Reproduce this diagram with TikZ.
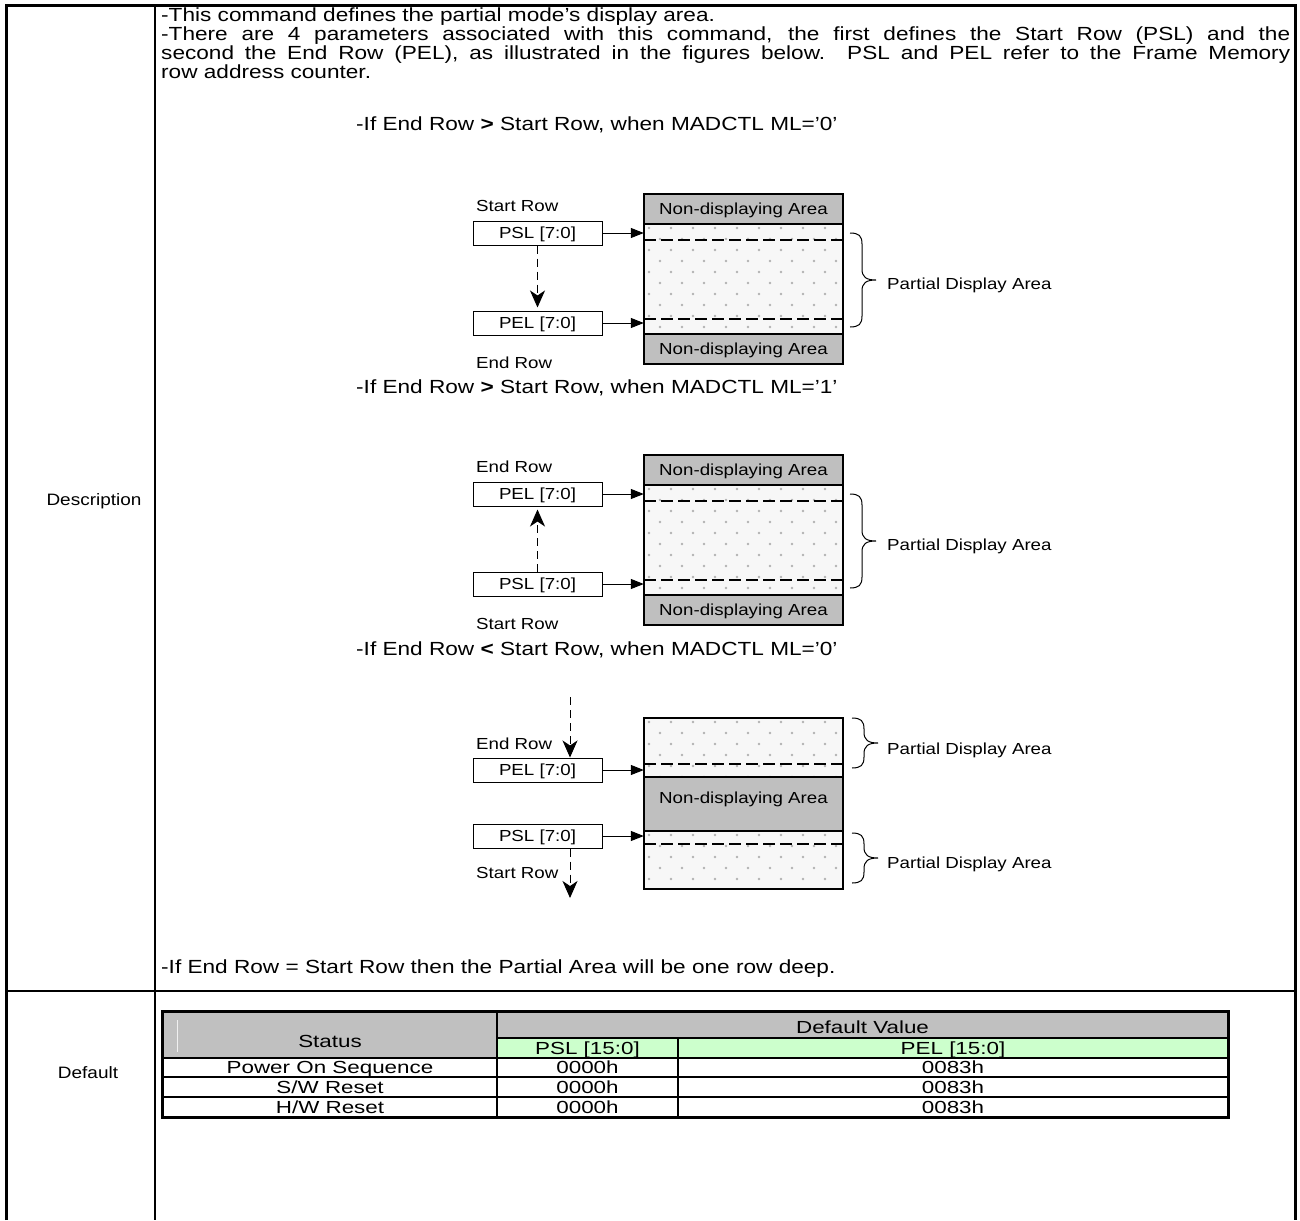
\documentclass[tikz,border=0pt]{standalone}
\usepackage{fontspec}
\setmainfont{Liberation Sans}
\newfontfamily\bodyf{Liberation Sans}[FakeStretch=1.19]
\newfontfamily\labf{Liberation Sans}[FakeStretch=1.17]
\newfontfamily\sidef{Liberation Sans}[FakeStretch=1.15]
\newfontfamily\tabf{Liberation Sans}[FakeStretch=1.28]
\usetikzlibrary{arrows.meta}
\definecolor{bandgray}{HTML}{BFBFBF}
\definecolor{hdrgray}{HTML}{C0C0C0}
\definecolor{hdrgreen}{HTML}{CCFFCC}
\tikzset{
  body/.style={font=\bodyf\fontsize{19}{21}\selectfont, inner sep=0pt, anchor=base west},
  side/.style={font=\sidef\fontsize{16.5}{18}\selectfont, inner sep=0pt, anchor=base},
  lab/.style={font=\labf\fontsize{16}{18}\selectfont, inner sep=0pt, text height=11.5pt, text depth=0pt},
  pbox/.style={draw, line width=1pt, minimum width=129pt, minimum height=24pt, inner sep=0pt,
     font=\labf\fontsize{16}{18}\selectfont, text height=11.5pt, text depth=0pt},
  tab/.style={font=\tabf\fontsize{17.5}{19}\selectfont, inner sep=0pt, text height=12.5pt, text depth=0pt},
  feed/.style={line width=1pt, -{Triangle[length=13pt,width=10pt]}},
  flow/.style={line width=1pt, dash pattern=on 8pt off 5pt, -{Stealth[length=17pt,width=15pt,inset=5pt]}},
  cut/.style={line width=1.5pt, dash pattern=on 12pt off 5pt},
  thin/.style={line width=1.5pt},
  thick3/.style={line width=3pt},
}
\newcommand\dotarea[4]{%
  \fill[gray!6] (#1,#2) rectangle (#3,#4);
  \begin{scope}
    \clip (#1,#2) rectangle (#3,#4);
    \foreach \rr in {0,...,16} {\foreach \cc in {0,...,9} {
      \fill[gray!60] ({#1+5+\cc*22+mod(\rr,2)*11},{#2+4+\rr*11}) circle (1.4pt);
    }}
  \end{scope}}
\newcommand\curlybr[3]{%
  \draw[line width=1pt] (#1,#2) .. controls ({#1+9},#2) and ({#1+12},{#2+3}) .. ({#1+12},{#2+11})
   -- ({#1+12},{(#2+#3)/2-11}) .. controls ({#1+12},{(#2+#3)/2-3}) and ({#1+16},{(#2+#3)/2}) .. ({#1+26},{(#2+#3)/2})
   .. controls ({#1+16},{(#2+#3)/2}) and ({#1+12},{(#2+#3)/2+3}) .. ({#1+12},{(#2+#3)/2+11})
   -- ({#1+12},{#3-11}) .. controls ({#1+12},{#3-3}) and ({#1+9},#3) .. (#1,#3);}
\begin{document}
\begin{tikzpicture}[x=1pt,y=-1pt]
\useasboundingbox (0,0) rectangle (1300,1220);
\fill[white] (0,0) rectangle (1300,1220);

% ---------- outer frame ----------
\draw[thick3] (6.5,1220) -- (6.5,5.5) -- (1295,5.5) -- (1295,1220);
\draw[thin] (155,5.5) -- (155,1220);
\draw[thin] (6.5,991) -- (1295,991);
\node[side] (desc) at (94,505) {Description};
\node[side] (deflt) at (88,1078) {Default};

% ---------- text ----------
\node[body] (t1) at (161,22) {-This command defines the partial mode’s display area.};
\node[body] (t2) at (161,41) {\makebox[1129pt][s]{-There are 4 parameters associated with this command, the first defines the Start Row (PSL) and the}};
\node[body] (t3) at (161,60) {\makebox[1129pt][s]{second the End Row (PEL), as illustrated in the figures below. PSL and PEL refer to the Frame Memory}};
\node[body] (t4) at (161,79) {row address counter.};
\node[body] (h1) at (356,131) {-If End Row \textbf{>} Start Row, when MADCTL ML=’0’};
\node[body] (h2) at (356,393) {-If End Row \textbf{>} Start Row, when MADCTL ML=’1’};
\node[body] (h3) at (356,655) {-If End Row \textbf{<} Start Row, when MADCTL ML=’0’};
\node[body] (h4) at (161,973) {-If End Row = Start Row then the Partial Area will be one row deep.};

% ---------- diagram 1 ----------
\fill[bandgray] (644,194) rectangle (843,224);
\fill[bandgray] (644,334) rectangle (843,364);
\dotarea{644}{224}{843}{334}
\draw[cut] (644,240) -- (843,240);
\draw[cut] (644,319) -- (843,319);
\draw[thin] (644,224) -- (843,224) (644,334) -- (843,334);
\draw[line width=2pt] (644,194) rectangle (843,364);
\node[inner sep=0pt, minimum width=199pt, minimum height=170pt] (area1) at (743.5,279) {};
\node[lab] (nd1a) at (743.5,209) {Non-displaying Area};
\node[lab] (nd1b) at (743.5,349) {Non-displaying Area};
\node[pbox] (psl1) at (537.5,233) {PSL [7:0]};
\node[pbox] (pel1) at (537.5,323) {PEL [7:0]};
\node[lab, anchor=base west] (sr1) at (476,211) {Start Row};
\node[lab, anchor=base west] (er1) at (476,368) {End Row};
\draw[feed] (psl1.east) -- (psl1.east -| area1.west);
\draw[feed] (pel1.east) -- (pel1.east -| area1.west);
\draw[flow] (psl1.south) -- ([yshift=3pt]pel1.north);
\curlybr{850}{233}{327}
\node[lab, anchor=base west] (pda1) at (887,289) {Partial Display Area};

% ---------- diagram 2 ----------
\fill[bandgray] (644,455) rectangle (843,485);
\fill[bandgray] (644,595) rectangle (843,625);
\dotarea{644}{485}{843}{595}
\draw[cut] (644,501) -- (843,501);
\draw[cut] (644,580) -- (843,580);
\draw[thin] (644,485) -- (843,485) (644,595) -- (843,595);
\draw[line width=2pt] (644,455) rectangle (843,625);
\node[inner sep=0pt, minimum width=199pt, minimum height=170pt] (area2) at (743.5,540) {};
\node[lab] (nd2a) at (743.5,470) {Non-displaying Area};
\node[lab] (nd2b) at (743.5,610) {Non-displaying Area};
\node[pbox] (pel2) at (537.5,494) {PEL [7:0]};
\node[pbox] (psl2) at (537.5,584) {PSL [7:0]};
\node[lab, anchor=base west] (er2) at (476,472) {End Row};
\node[lab, anchor=base west] (sr2) at (476,629) {Start Row};
\draw[feed] (pel2.east) -- (pel2.east -| area2.west);
\draw[feed] (psl2.east) -- (psl2.east -| area2.west);
\draw[flow] (psl2.north) -- ([yshift=-3pt]pel2.south);
\curlybr{850}{494}{588}
\node[lab, anchor=base west] (pda2) at (887,550) {Partial Display Area};

% ---------- diagram 3 ----------
\dotarea{644}{718}{843}{777}
\dotarea{644}{831}{843}{889}
\fill[bandgray] (644,777) rectangle (843,831);
\draw[cut] (644,764) -- (843,764);
\draw[cut] (644,844) -- (843,844);
\draw[line width=2pt] (644,777) -- (843,777) (644,831) -- (843,831);
\draw[line width=2pt] (644,718) rectangle (843,889);
\node[inner sep=0pt, minimum width=199pt, minimum height=171pt] (area3) at (743.5,803.5) {};
\node[lab] (nd3) at (743.5,798) {Non-displaying Area};
\node[pbox] (pel3) at (537.5,770) {PEL [7:0]};
\node[pbox] (psl3) at (537.5,836) {PSL [7:0]};
\node[lab, anchor=base west] (er3) at (476,749) {End Row};
\node[lab, anchor=base west] (sr3) at (476,878) {Start Row};
\draw[feed] (pel3.east) -- (pel3.east -| area3.west);
\draw[feed] (psl3.east) -- (psl3.east -| area3.west);
\coordinate (c3a) at (570,697);
\coordinate (c3d) at (570,898);
\draw[flow] (c3a) -- (pel3.north -| c3a);
\draw[flow] (psl3.south -| c3d) -- (c3d);
\curlybr{852}{718}{768}
\curlybr{852}{833}{883}
\node[lab, anchor=base west] (pda3a) at (887,754) {Partial Display Area};
\node[lab, anchor=base west] (pda3b) at (887,868) {Partial Display Area};

% ---------- default table ----------
\fill[hdrgray] (162,1011) rectangle (1228,1038);
\fill[hdrgray] (162,1038) rectangle (497,1058);
\fill[hdrgreen] (497,1038) rectangle (1228,1058);
\draw[line width=1pt, gray!12] (177,1020) -- (177,1052);
\draw[thin] (497,1038) -- (1228,1038);
\draw[thin] (162,1058) -- (1228,1058);
\draw[thin] (162,1077) -- (1228,1077);
\draw[thin] (162,1097) -- (1228,1097);
\draw[thin] (497,1011) -- (497,1117);
\draw[thin] (678,1038) -- (678,1117);
\draw[thick3] (162,1011) rectangle (1228,1117);
\node[tab] (status) at (330,1041) {Status};
\node[tab] (dv) at (862.5,1027) {Default Value};
\node[tab] (pslh) at (587.5,1048) {PSL [15:0]};
\node[tab] (pelh) at (953,1048) {PEL [15:0]};
\node[tab] (r1a) at (330,1067.5) {Power On Sequence};
\node[tab] (r1b) at (587.5,1067.5) {0000h};
\node[tab] (r1c) at (953,1067.5) {0083h};
\node[tab] (r2a) at (330,1087) {S/W Reset};
\node[tab] (r2b) at (587.5,1087) {0000h};
\node[tab] (r2c) at (953,1087) {0083h};
\node[tab] (r3a) at (330,1107) {H/W Reset};
\node[tab] (r3b) at (587.5,1107) {0000h};
\node[tab] (r3c) at (953,1107) {0083h};
\end{tikzpicture}
\end{document}
